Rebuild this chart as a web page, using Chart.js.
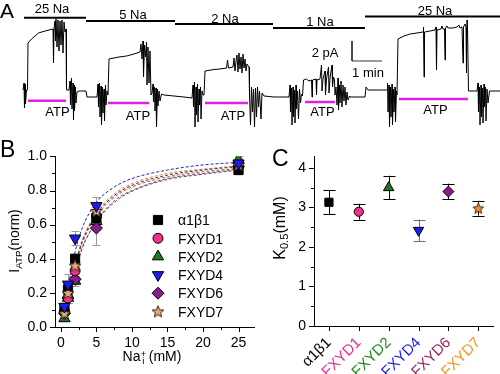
<!DOCTYPE html>
<html><head><meta charset="utf-8">
<script src="https://cdn.jsdelivr.net/npm/chart.js@4/dist/chart.umd.min.js"></script>
<style>
html,body{margin:0;padding:0;background:#fff;}
#wrap{position:relative;width:500px;height:374px;overflow:hidden;font-family:Arial,"Liberation Sans",Helvetica,sans-serif;color:#000;}
canvas{position:absolute;}
.t{position:absolute;white-space:nowrap;line-height:1;transform:translate(-50%,-50%);}
.l{position:absolute;white-space:nowrap;line-height:1;}
.r{position:absolute;white-space:nowrap;line-height:1;transform:translate(-50%,-50%) rotate(-90deg);}
.sub{font-size:0.7em;position:relative;top:0.3em;}
.sup{font-size:0.7em;position:relative;top:-0.45em;}
</style></head><body><div id="wrap">
<canvas id="ca" width="500" height="140" style="left:0;top:0"></canvas>
<canvas id="cb" width="262" height="234" style="left:0;top:140px"></canvas>
<canvas id="cc" width="238" height="234" style="left:262px;top:140px"></canvas>

<span class="l" style="left:0;top:0;font-size:21px">A</span>
<span class="t" style="left:52px;top:8px;font-size:13px">25 Na</span>
<span class="t" style="left:133px;top:14px;font-size:13px">5 Na</span>
<span class="t" style="left:225px;top:17.5px;font-size:13px">2 Na</span>
<span class="t" style="left:320px;top:20.5px;font-size:13px">1 Na</span>
<span class="t" style="left:435px;top:10px;font-size:13px">25 Na</span>
<span class="t" style="left:57.5px;top:110.5px;font-size:13px">ATP</span>
<span class="t" style="left:138px;top:114.5px;font-size:13px">ATP</span>
<span class="t" style="left:233px;top:114.5px;font-size:13px">ATP</span>
<span class="t" style="left:322.5px;top:111px;font-size:13px">ATP</span>
<span class="t" style="left:435.5px;top:108.5px;font-size:13px">ATP</span>
<span class="t" style="left:325px;top:52px;font-size:13px">2 pA</span>
<span class="t" style="left:368px;top:71.5px;font-size:13px">1 min</span>

<span class="l" style="left:0;top:138px;font-size:23px">B</span>
<span class="r" style="left:14px;top:241px;font-size:14px">I<span class="sub">ATP</span>(norm)</span>
<span class="t" style="left:152px;top:356px;font-size:14px">Na<span class="sup">+</span><span class="sub" style="margin-left:-0.4em">i</span><span style="margin-left:0.3em">(mM)</span></span>
<span class="l" style="left:178px;top:213px;font-size:14px">α1β1</span>
<span class="l" style="left:178px;top:231.5px;font-size:14px">FXYD1</span>
<span class="l" style="left:178px;top:249.8px;font-size:14px">FXYD2</span>
<span class="l" style="left:178px;top:268px;font-size:14px">FXYD4</span>
<span class="l" style="left:178px;top:286.3px;font-size:14px">FXYD6</span>
<span class="l" style="left:178px;top:304.6px;font-size:14px">FXYD7</span>

<span class="l" style="left:272px;top:147px;font-size:23px">C</span>
<span class="r" style="left:280px;top:228px;font-size:16px">K<span class="sub">0.5</span>(mM)</span>
</div>
<script>
// ---------------- Panel A data (time in s, current in pA) ----------------
const traceA = [
[-2,0.7],[0,1.4],[1,-1.1],[2,1.3],[3,-0.7],[5,0.7],[7,0.7],[8,5.4],[15,5.8],[29,6.4],[42,6.6],[58,6.8],[59,3.4],[60,6.8],
[62,7.6],[63,5.6],[64,7.8],[66,5.0],[68,7.7],[70,4.6],[72,7.6],[74,5.2],[76,7.7],[78,4.4],[80,7.5],[82,6.5],[84,6.8],
[85,0.7],[90,0.7],[92,1.6],[93,-0.8],[95,1.9],[96,-1.2],[98,1.4],[99,-2.3],[100,1.2],[101,-1.4],[103,1.0],[104,-0.6],[106,0.5],
[110,0.6],[124,0.6],[126,0.0],[146,0.0],
[148,1.3],[149,-1.0],[151,1.4],[152,-2.0],[154,1.1],[155,-2.8],[157,1.0],[158,-1.6],[160,0.8],[161,-2.4],[163,1.2],[164,-0.8],[166,0.6],[168,0.2],
[170,3.8],[190,4.0],[205,4.1],[220,4.3],[232,4.5],
[234,5.3],[236,3.8],[238,5.6],[239,2.0],[241,5.2],[243,4.0],[245,5.5],[246,1.2],[248,5.0],[250,1.4],[252,4.6],
[254,0.2],[256,0.4],[258,1.3],[259,-0.5],[261,1.0],[262,-1.4],[264,0.9],[265,-3.0],[267,0.8],[268,-0.9],[270,0.6],[272,-0.4],[275,0.3],[280,0.2],
[300,0.1],[320,0.0],[336,-0.1],
[338,1.2],[339,-1.0],[341,1.5],[342,-3.0],[344,1.0],[345,-1.8],[347,1.3],[348,-2.5],[350,0.8],[351,-0.8],[353,1.0],[354,-2.2],[356,0.6],[358,0.2],[360,0.2],
[362,2.6],[380,2.75],[392,2.8],[405,2.9],[407,3.7],[409,2.9],[418,3.0],
[420,3.9],[422,2.6],[424,3.6],[426,4.2],[428,2.5],[430,4.4],[432,2.8],[434,4.0],[436,2.4],[438,4.3],[440,2.9],[442,3.8],[444,2.6],[446,3.3],[450,3.0],
[451,0.2],[453,-2.8],[455,1.0],[457,-1.5],[459,0.8],[461,-3.0],[463,0.9],[465,-2.0],[467,1.0],[469,-1.0],[471,0.6],[474,-2.2],[476,0.4],[480,0.1],
[500,0.0],[530,0.0],
[532,1.2],[533,-1.5],[535,0.9],[536,-2.8],[538,1.0],[539,-2.0],[541,0.7],[542,-2.6],[544,1.2],[545,-1.2],[547,0.6],[549,-2.2],[551,0.8],[553,-0.6],[555,0.3],[557,0.1],
[559,1.7],[565,1.8],[570,1.6],[575,1.7],[576,0.0],[577,1.7],[584,1.8],[585,0.2],[586,1.7],[592,1.8],[595,3.2],[596,0.6],[598,1.8],[602,2.6],[603,0.2],[605,1.8],[609,3.0],[610,0.4],[612,1.9],[616,3.2],[617,1.0],[619,2.0],[621,1.7],
[622,0.2],[624,1.0],[626,-0.8],[628,1.9],[629,-1.3],[631,1.2],[632,-0.6],[634,1.6],[636,-1.0],[638,1.2],[640,-0.4],[642,1.0],[644,-0.8],[646,0.5],[648,-0.3],[651,0.1],
[652,0.0],[682,0.0],[684,1.0],[688,0.7],[726,0.7],
[727,1.4],[728,-1.5],[730,1.2],[731,-3.0],[733,1.0],[734,-2.0],[736,1.3],[737,-2.8],[739,0.8],[740,-1.5],[742,1.0],[743,-2.5],[745,0.6],[746,0.2],
[748,5.8],[760,6.1],[772,6.3],[786,6.4],[798,6.5],[799,7.0],[800,2.0],[801,6.5],[812,6.6],[822,6.7],[824,7.0],[825,2.7],[826,6.7],[834,6.8],[836,7.1],[838,6.8],[841,6.8],[842,3.7],[843,6.9],[846,7.1],[848,6.9],[858,6.9],[866,7.0],[870,7.2],[872,6.9],[876,7.0],[878,3.4],[879,7.0],[882,7.3],[884,7.0],[885,2.4],[886,7.7],[887,7.0],
[889,0.6],[906,0.6],[908,1.4],[909,-1.5],[911,1.0],[912,-2.8],[914,1.2],[915,-2.0],[917,0.9],[918,-2.6],[920,1.3],[921,-1.0],[923,1.0],[924,-2.4],[926,0.8],[928,-0.6],[931,0.6],[952,0.6]
];
const naBarConc = [25, 5, 2, 1, 25];
const naBarStart = [0, 124, 302, 498, 682];
const naBarEnd = [124, 302, 498, 682, 952];
const atpStart = [8, 168, 362, 562, 750];
const atpEnd = [84, 250, 448, 622, 888];
const scaleBarTime = 60;   // s
const scaleBarCurrent = 2; // pA

// ---------------- Panel B data ----------------
const naConc = [0.5, 1, 2, 5, 25];
const seriesNames = ['α1β1', 'FXYD1', 'FXYD2', 'FXYD4', 'FXYD6', 'FXYD7'];
const iA1B1  = [0.10, 0.22, 0.40, 0.64, 0.92];
const iFXYD1 = [0.09, 0.17, 0.33, 0.65, 0.94];
const iFXYD2 = [0.05, 0.17, 0.27, 0.62, 0.98];
const iFXYD4 = [0.12, 0.25, 0.52, 0.71, 0.96];
const iFXYD6 = [0.08, 0.17, 0.28, 0.58, 0.94];
const iFXYD7 = [0.08, 0.20, 0.36, 0.68, 0.95];
const eA1B1  = [0.02, 0.03, 0.03, 0.04, 0.02];
const eFXYD1 = [0.02, 0.03, 0.03, 0.04, 0.02];
const eFXYD2 = [0.01, 0.03, 0.03, 0.05, 0.02];
const eFXYD4 = [0.02, 0.06, 0.04, 0.05, 0.02];
const eFXYD6 = [0.02, 0.03, 0.03, 0.10, 0.02];
const eFXYD7 = [0.02, 0.03, 0.03, 0.04, 0.02];
const fitX = [0.5, 1, 2, 3, 5, 7.5, 10, 15, 20, 25];
const fitA1B1  = [0.085, 0.18, 0.36, 0.50, 0.66, 0.77, 0.83, 0.89, 0.92, 0.94];
const fitFXYD1 = [0.085, 0.18, 0.35, 0.49, 0.65, 0.76, 0.82, 0.88, 0.91, 0.93];
const fitFXYD2 = [0.07, 0.16, 0.32, 0.46, 0.62, 0.74, 0.80, 0.87, 0.90, 0.925];
const fitFXYD4 = [0.11, 0.23, 0.44, 0.58, 0.73, 0.82, 0.87, 0.92, 0.95, 0.965];
const fitFXYD6 = [0.075, 0.165, 0.33, 0.465, 0.615, 0.73, 0.795, 0.865, 0.895, 0.92];
const fitFXYD7 = [0.09, 0.19, 0.37, 0.51, 0.67, 0.78, 0.84, 0.90, 0.925, 0.945];
const bXTicks = [0, 5, 10, 15, 20, 25];
const bXMinor = [2.5, 7.5, 12.5, 17.5, 22.5];
const bYTicks = [0, 0.2, 0.4, 0.6, 0.8, 1.0];
const bYMinor = [0.1, 0.3, 0.5, 0.7, 0.9];

// ---------------- Panel C data ----------------
const k05 = [3.13, 2.89, 3.50, 2.42, 3.40, 2.98];
const k05Err = [0.30, 0.20, 0.30, 0.27, 0.20, 0.19];
const cYTicks = [0, 1, 2, 3, 4];
const cYMinor = [0.5, 1.5, 2.5, 3.5];

// ---------------- styles ----------------
const FONT = 'Arial, "Liberation Sans", Helvetica, sans-serif';
Chart.defaults.font.family = FONT;
Chart.defaults.color = '#000';
Chart.defaults.animation = false;

function makeStar(size, fill) {
  const c = document.createElement('canvas');
  c.width = size; c.height = size;
  const g = c.getContext('2d');
  const cx = size / 2, cy = size / 2 + 0.5, R = size / 2 - 0.8, r = R * 0.45;
  g.beginPath();
  for (let i = 0; i < 10; i++) {
    const a = -Math.PI / 2 + i * Math.PI / 5;
    const rr = i % 2 ? r : R;
    g.lineTo(cx + rr * Math.cos(a), cy + rr * Math.sin(a));
  }
  g.closePath();
  g.fillStyle = fill; g.fill();
  g.strokeStyle = '#3a2a1a'; g.lineWidth = 1; g.stroke();
  return c;
}

const colors = {
  'α1β1': '#000000', 'FXYD1': '#f0308a', 'FXYD2': '#1b7a1b',
  'FXYD4': '#1c1cf0', 'FXYD6': '#8b1c8b', 'FXYD7': '#e0a060'
};
const labelColors = ['#000000', '#ee2d8c', '#1e8a1e', '#1c1cf0', '#a0205f', '#f7941d'];
const bStyle = {
  'α1β1':  { pointStyle: 'rect', radius: 6.5, rotation: 0 },
  'FXYD1': { pointStyle: 'circle', radius: 5, rotation: 0 },
  'FXYD2': { pointStyle: 'triangle', radius: 6.5, rotation: 0 },
  'FXYD4': { pointStyle: 'triangle', radius: 6.5, rotation: 180 },
  'FXYD6': { pointStyle: 'rectRot', radius: 6, rotation: 0 },
  'FXYD7': { pointStyle: makeStar(14, '#e0a878'), radius: 6, rotation: 0 }
};
const cStyle = {
  'α1β1':  { pointStyle: 'rect', radius: 5.8, rotation: 0 },
  'FXYD1': { pointStyle: 'circle', radius: 4.6, rotation: 0 },
  'FXYD2': { pointStyle: 'triangle', radius: 6, rotation: 0 },
  'FXYD4': { pointStyle: 'triangle', radius: 6, rotation: 180 },
  'FXYD6': { pointStyle: 'rectRot', radius: 5.5, rotation: 0 },
  'FXYD7': { pointStyle: makeStar(13, '#f09030'), radius: 5, rotation: 0 }
};

// custom tick marks (major + minor)
function drawTicks(chart, axisId, majors, minors, majLen, minLen) {
  const s = chart.scales[axisId], ctx = chart.ctx, a = chart.chartArea;
  ctx.save(); ctx.strokeStyle = '#000'; ctx.lineWidth = 1; ctx.beginPath();
  const put = (v, len) => {
    const p = Math.round(s.getPixelForValue(v)) + 0.5;
    if (s.axis === 'x') { ctx.moveTo(p, Math.round(a.bottom)); ctx.lineTo(p, Math.round(a.bottom) + len); }
    else { ctx.moveTo(Math.round(a.left), p); ctx.lineTo(Math.round(a.left) - len, p); }
  };
  majors.forEach(v => put(v, majLen)); minors.forEach(v => put(v, minLen));
  ctx.stroke(); ctx.restore();
}
function drawErr(ctx, xs, ylo, yhi, cap, color) {
  ctx.save(); ctx.strokeStyle = color; ctx.lineWidth = 1; ctx.beginPath();
  const x = Math.round(xs) + 0.5;
  ctx.moveTo(x, yhi); ctx.lineTo(x, ylo);
  ctx.moveTo(x - cap, Math.round(yhi) + 0.5); ctx.lineTo(x + cap, Math.round(yhi) + 0.5);
  ctx.moveTo(x - cap, Math.round(ylo) + 0.5); ctx.lineTo(x + cap, Math.round(ylo) + 0.5);
  ctx.stroke(); ctx.restore();
}
function drawMarker(ctx, st, fill, x, y) {
  ctx.save();
  if (typeof st.pointStyle !== 'string') {
    const im = st.pointStyle; ctx.drawImage(im, x - im.width / 2, y - im.height / 2); ctx.restore(); return;
  }
  const r = st.radius; const rad = st.rotation * Math.PI / 180;
  ctx.fillStyle = fill; ctx.strokeStyle = '#000'; ctx.lineWidth = 1; ctx.beginPath();
  if (st.pointStyle === 'circle') ctx.arc(x, y, r, 0, Math.PI * 2);
  else if (st.pointStyle === 'rect') { const s = r * Math.SQRT1_2; ctx.rect(x - s, y - s, 2 * s, 2 * s); }
  else if (st.pointStyle === 'rectRot') { ctx.moveTo(x - r, y); ctx.lineTo(x, y - r); ctx.lineTo(x + r, y); ctx.lineTo(x, y + r); ctx.closePath(); }
  else if (st.pointStyle === 'triangle') {
    let a = rad;
    ctx.moveTo(x + Math.sin(a) * r, y - Math.cos(a) * r);
    a += 2 * Math.PI / 3; ctx.lineTo(x + Math.sin(a) * r, y - Math.cos(a) * r);
    a += 2 * Math.PI / 3; ctx.lineTo(x + Math.sin(a) * r, y - Math.cos(a) * r);
    ctx.closePath();
  }
  ctx.fill(); ctx.stroke(); ctx.restore();
}

// ---------------- Panel A chart ----------------
(function () {
  const NA_LEVEL = [7.93, 7.6, 7.3, 6.9, 8.05];   // vertical placement of protocol bars
  const ATP_LEVEL = [-0.37, -0.6, -0.6, -0.5, -0.2];
  const SB_T0 = 656, SB_I0 = 3.6;                 // placement of the scale bar
  const datasets = [{
    data: traceA.map(p => ({ x: p[0], y: p[1] })),
    showLine: true, borderColor: '#000', borderWidth: 1, pointRadius: 0, order: 0
  }];
  naBarConc.forEach((c, i) => datasets.push({
    label: c + ' Na', data: [{ x: naBarStart[i], y: NA_LEVEL[i] }, { x: naBarEnd[i], y: NA_LEVEL[i] }],
    showLine: true, borderColor: '#000', borderWidth: 2, pointRadius: 0, borderCapStyle: 'butt'
  }));
  atpStart.forEach((s, i) => datasets.push({
    label: 'ATP', data: [{ x: s, y: ATP_LEVEL[i] }, { x: atpEnd[i], y: ATP_LEVEL[i] }],
    showLine: true, borderColor: '#e020e0', borderWidth: 2.5, pointRadius: 0, borderCapStyle: 'butt'
  }));
  datasets.push({
    label: 'scale', data: [{ x: SB_T0, y: SB_I0 + scaleBarCurrent }, { x: SB_T0, y: SB_I0 }, { x: SB_T0 + scaleBarTime, y: SB_I0 }],
    showLine: true, borderColor: '#333', borderWidth: 1, pointRadius: 0, tension: 0
  });
  new Chart(document.getElementById('ca'), {
    type: 'scatter',
    data: { datasets },
    options: {
      responsive: false, animation: false,
      layout: { padding: 0 },
      plugins: { legend: { display: false }, tooltip: { enabled: false } },
      scales: {
        x: { type: 'linear', display: false, min: -48, max: 952 },
        y: { type: 'linear', display: false, min: -4.3, max: 9.7 }
      }
    }
  });
})();

// ---------------- Panel B chart ----------------
(function () {
  const vals = { 'α1β1': iA1B1, 'FXYD1': iFXYD1, 'FXYD2': iFXYD2, 'FXYD4': iFXYD4, 'FXYD6': iFXYD6, 'FXYD7': iFXYD7 };
  const errs = { 'α1β1': eA1B1, 'FXYD1': eFXYD1, 'FXYD2': eFXYD2, 'FXYD4': eFXYD4, 'FXYD6': eFXYD6, 'FXYD7': eFXYD7 };
  const fits = { 'α1β1': fitA1B1, 'FXYD1': fitFXYD1, 'FXYD2': fitFXYD2, 'FXYD4': fitFXYD4, 'FXYD6': fitFXYD6, 'FXYD7': fitFXYD7 };
  const fitColors = { 'α1β1': '#333333', 'FXYD1': '#e0308a', 'FXYD2': '#1b8a1b', 'FXYD4': '#2020e0', 'FXYD6': '#a020a0', 'FXYD7': '#e08a20' };
  const drawOrder = ['FXYD4', 'FXYD7', 'α1β1', 'FXYD1', 'FXYD6', 'FXYD2']; // first = on top
  const datasets = [];
  drawOrder.forEach(k => {
    const st = bStyle[k];
    datasets.push({
      label: k, data: naConc.map((x, i) => ({ x, y: vals[k][i] })),
      showLine: false, pointStyle: st.pointStyle, pointRadius: st.radius, pointRotation: st.rotation,
      backgroundColor: colors[k], borderColor: '#000', borderWidth: 1, order: 0
    });
  });
  seriesNames.forEach(k => datasets.push({
    label: k + ' fit', data: fitX.map((x, i) => ({ x, y: fits[k][i] })),
    showLine: true, pointRadius: 0, borderColor: fitColors[k], borderWidth: 1, borderDash: [3, 2],
    cubicInterpolationMode: 'monotone', order: 5
  }));
  const extras = {
    id: 'bExtras',
    beforeDatasetsDraw(chart) {
      const xs = chart.scales.x, ys = chart.scales.y, ctx = chart.ctx;
      seriesNames.forEach(k => naConc.forEach((x, i) => {
        const v = vals[k][i], e = errs[k][i];
        drawErr(ctx, xs.getPixelForValue(x), ys.getPixelForValue(v - e), ys.getPixelForValue(v + e), 4, '#9a9a9a');
      }));
    },
    afterDraw(chart) {
      drawTicks(chart, 'x', bXTicks, bXMinor, 5, 3);
      drawTicks(chart, 'y', bYTicks, bYMinor, 5, 3);
      const ctx = chart.ctx;
      seriesNames.forEach((k, i) => drawMarker(ctx, bStyle[k], colors[k], 158, 80 + i * 18.3));
    }
  };
  new Chart(document.getElementById('cb'), {
    type: 'scatter',
    data: { datasets },
    plugins: [extras],
    options: {
      responsive: false, animation: false,
      layout: { padding: { top: 12, right: 5, left: 0, bottom: 0 } },
      plugins: { legend: { display: false }, tooltip: { enabled: false } },
      scales: {
        x: {
          type: 'linear', min: -0.83, max: 27.25,
          grid: { display: false, drawTicks: false },
          border: { display: true, color: '#000', width: 1 },
          afterBuildTicks: s => { s.ticks = bXTicks.map(v => ({ value: v })); },
          afterFit: s => { s.height = 47; },
          ticks: { font: { size: 14 }, color: '#000', padding: 8, maxRotation: 0, autoSkip: false, callback: v => String(v) }
        },
        y: {
          type: 'linear', min: 0, max: 1.0,
          grid: { display: false, drawTicks: false },
          border: { display: true, color: '#000', width: 1 },
          afterBuildTicks: s => { s.ticks = bYTicks.map(v => ({ value: v })); },
          afterFit: s => { s.width = 55; },
          ticks: { font: { size: 14 }, color: '#000', padding: 8, autoSkip: false, callback: v => Number(v).toFixed(1) }
        }
      }
    }
  });
})();

// ---------------- Panel C chart ----------------
(function () {
  const extras = {
    id: 'cExtras',
    beforeDatasetsDraw(chart) {
      const xs = chart.scales.x, ys = chart.scales.y, ctx = chart.ctx;
      k05.forEach((v, i) => {
        const e = k05Err[i];
        drawErr(ctx, xs.getPixelForValue(i), ys.getPixelForValue(v - e), ys.getPixelForValue(v + e), 6,
          seriesNames[i] === 'FXYD4' ? '#6a6a6a' : '#000');
      });
    },
    afterDraw(chart) {
      drawTicks(chart, 'x', seriesNames.map((_, i) => i), [], 5, 0);
      drawTicks(chart, 'y', cYTicks, cYMinor, 5, 3);
    }
  };
  new Chart(document.getElementById('cc'), {
    type: 'line',
    data: {
      labels: seriesNames,
      datasets: [{
        label: 'K0.5', data: k05, showLine: false,
        pointStyle: seriesNames.map(k => cStyle[k].pointStyle),
        pointRadius: seriesNames.map(k => cStyle[k].radius),
        pointRotation: seriesNames.map(k => cStyle[k].rotation),
        backgroundColor: seriesNames.map(k => colors[k] === '#e0a060' ? '#f09030' : colors[k]),
        borderColor: '#000', borderWidth: 1
      }]
    },
    plugins: [extras],
    options: {
      responsive: false, animation: false,
      layout: { padding: { top: 12, right: 0, left: 0, bottom: 0 } },
      plugins: { legend: { display: false }, tooltip: { enabled: false } },
      scales: {
        x: {
          type: 'category', offset: true,
          grid: { display: false, drawTicks: false },
          border: { display: true, color: '#000', width: 1 },
          afterFit: s => { s.height = 48; },
          ticks: { font: { size: 15 }, padding: 8, minRotation: 45, maxRotation: 45, autoSkip: false,
                   color: c => labelColors[c.index] }
        },
        y: {
          type: 'linear', min: 0, max: 4.29,
          grid: { display: false, drawTicks: false },
          border: { display: true, color: '#000', width: 1 },
          afterBuildTicks: s => { s.ticks = cYTicks.map(v => ({ value: v })); },
          afterFit: s => { s.width = 52; },
          ticks: { font: { size: 14 }, color: '#000', padding: 8, autoSkip: false, callback: v => String(v) }
        }
      }
    }
  });
})();
</script>
</body></html>
